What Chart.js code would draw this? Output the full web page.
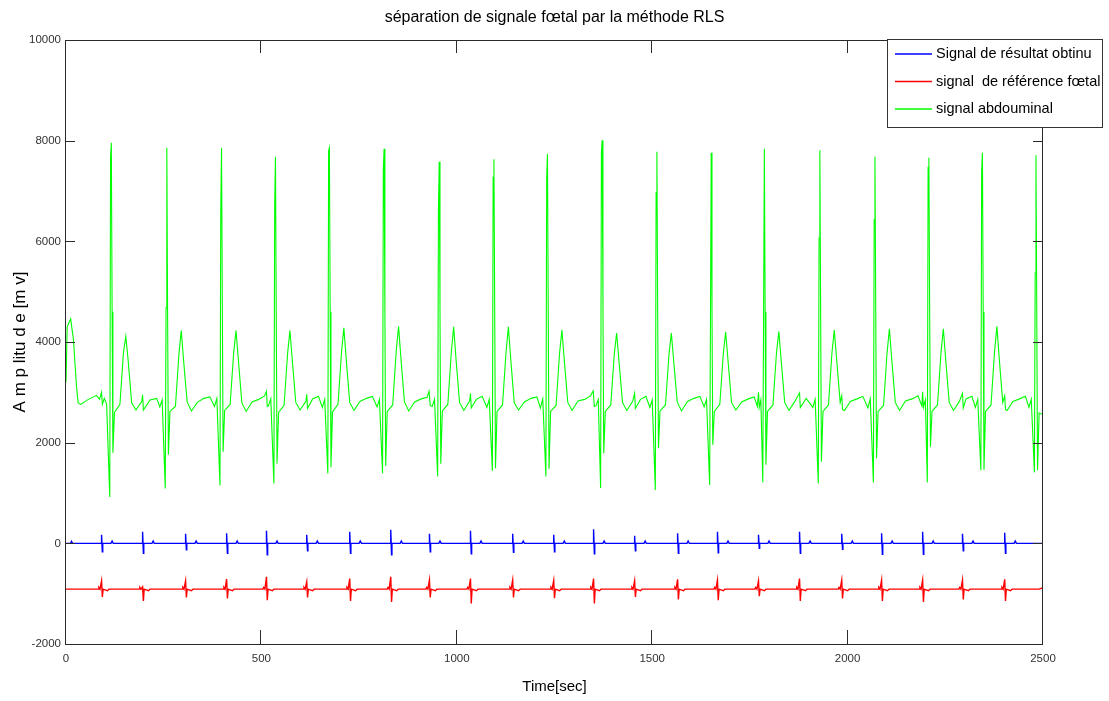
<!DOCTYPE html>
<html>
<head>
<meta charset="utf-8">
<title>séparation de signale fœtal par la méthode RLS</title>
<script src="https://cdn.jsdelivr.net/npm/chart.js@4.4.1/dist/chart.umd.min.js"></script>
<style>
  html, body { margin: 0; padding: 0; background: #fff; }
  #wrap { width: 1109px; height: 701px; position: relative; }
</style>
</head>
<body>
<div id="wrap"><canvas id="chart"></canvas></div>
<script>
// axis ticks
const xTicks = [0, 500, 1000, 1500, 2000, 2500];
const yTicks = [-2000, 0, 2000, 4000, 6000, 8000, 10000];

// legend labels
const labels = ['Signal de résultat obtinu', 'signal  de référence fœtal', 'signal abdouminal'];

// abdominal signal (green)
const greenTime = [
  0, 3, 12, 19, 27, 31, 38, 55, 78, 86, 91, 93, 98,
  104, 112, 114, 116, 118, 120, 124, 138, 147, 153, 159, 168, 179, 194, 196, 198, 215, 232,
  240, 246, 254, 256, 258, 260, 262, 266, 280, 289, 295, 301, 310, 321, 336, 353, 368,
  380, 386, 394, 396, 398, 400, 402, 406, 420, 429, 435, 441, 450, 461, 476, 493, 508,
  513, 515, 518, 524, 532, 534, 536, 538, 540, 544, 558, 567, 573, 579, 588, 599, 614, 616, 618, 631, 646,
  656, 662, 670, 672, 674, 676, 678, 682, 696, 705, 711, 717, 726, 737, 752, 769, 784,
  796, 802, 810, 812, 814, 816, 818, 822, 836, 845, 851, 857, 866, 877, 892, 909, 924,
  929, 932, 937, 943, 951, 953, 955, 957, 959, 963, 977, 986, 992, 998, 1007, 1018, 1033, 1035, 1037, 1050, 1065,
  1077, 1083, 1091, 1093, 1095, 1097, 1099, 1103, 1117, 1126, 1132, 1138, 1147, 1158, 1173, 1190, 1205,
  1214, 1220, 1228, 1230, 1232, 1234, 1236, 1240, 1254, 1263, 1269, 1275, 1284, 1295, 1310, 1327, 1342,
  1349, 1352, 1356, 1362, 1368, 1370, 1372, 1374, 1376, 1380, 1394, 1403, 1409, 1415, 1424, 1435, 1450, 1455, 1457, 1470, 1484,
  1494, 1500, 1508, 1510, 1512, 1514, 1516, 1520, 1534, 1543, 1549, 1555, 1564, 1575, 1590, 1607, 1622,
  1633, 1639, 1647, 1649, 1651, 1653, 1655, 1659, 1673, 1682, 1688, 1694, 1703, 1714, 1729, 1746, 1761,
  1769, 1772, 1774, 1778, 1783, 1785, 1787, 1789, 1791, 1795, 1809, 1818, 1824, 1830, 1839, 1850, 1865, 1877, 1879, 1894,
  1911, 1917, 1925, 1927, 1929, 1931, 1933, 1937, 1951, 1960, 1966, 1972, 1981, 1985, 1987, 1992, 2007, 2024, 2039,
  2052, 2058, 2066, 2068, 2070, 2072, 2074, 2078, 2092, 2101, 2107, 2113, 2122, 2133, 2148, 2165, 2180,
  2190, 2192, 2194, 2199, 2204, 2206, 2208, 2210, 2212, 2216, 2230, 2239, 2245, 2251, 2260, 2271, 2286, 2294, 2296, 2303, 2318,
  2327, 2333, 2341, 2343, 2345, 2347, 2349, 2353, 2367, 2376, 2382, 2388, 2397, 2402, 2404, 2408, 2423, 2440, 2455,
  2464, 2470, 2478, 2480, 2482, 2484, 2486, 2490, 2500
];
const greenAmp = [
  3200, 4300, 4460, 4050, 3100, 2790, 2760, 2850, 2940, 2860, 3000, 2760, 2880,
  2760, 920, 7670, 7960, 4600, 1800, 2600, 2760, 3790, 4110, 3640, 2790, 2650, 2820, 2950, 2650, 2850, 2880,
  2710, 2850, 1090, 4680, 7860, 4500, 1760, 2620, 2720, 3760, 4230, 3620, 2810, 2630, 2800, 2880, 2910,
  2720, 2880, 1150, 6600, 7860, 4700, 1820, 2640, 2760, 3780, 4230, 3650, 2790, 2620, 2810, 2860, 2930,
  3020, 2720, 2730, 2870, 1190, 6730, 7680, 4500, 1580, 2600, 2740, 3770, 4230, 3640, 2800, 2650, 2820, 2960, 2680, 2870, 2920,
  2700, 2860, 1390, 7800, 7860, 4600, 1510, 2610, 2760, 3800, 4280, 3660, 2800, 2640, 2820, 2880, 2920,
  2710, 2860, 1390, 7430, 7840, 4600, 1540, 2620, 2750, 3820, 4310, 3680, 2810, 2630, 2810, 2870, 2900,
  3020, 2740, 2720, 2860, 1330, 6600, 7580, 4600, 1580, 2630, 2760, 3800, 4300, 3660, 2800, 2640, 2830, 2980, 2690, 2860, 2920,
  2700, 2860, 1440, 7270, 7630, 4600, 1490, 2620, 2750, 3800, 4300, 3660, 2790, 2650, 2810, 2880, 2910,
  2690, 2870, 1330, 7270, 7740, 4600, 1480, 2620, 2740, 3780, 4240, 3640, 2800, 2640, 2830, 2860, 2930,
  3030, 2720, 2730, 2860, 1100, 7760, 8010, 4700, 1790, 2620, 2750, 3760, 4180, 3620, 2800, 2640, 2820, 2980, 2680, 2860, 2920,
  2700, 2850, 1060, 6970, 7780, 4600, 1890, 2630, 2750, 3760, 4180, 3620, 2810, 2630, 2820, 2880, 2920,
  2710, 2860, 1160, 4310, 7760, 4600, 1960, 2620, 2760, 3770, 4200, 3630, 2800, 2650, 2810, 2870, 2910,
  2720, 3000, 2700, 2850, 1210, 4540, 7840, 4600, 1560, 2620, 2750, 3780, 4210, 3640, 2800, 2640, 2820, 2990, 2700, 2880,
  2700, 2860, 1190, 6070, 7810, 4600, 1620, 2620, 2750, 3790, 4240, 3650, 2800, 2930, 2660, 2640, 2820, 2870, 2920,
  2690, 2870, 1210, 6430, 7680, 4600, 1690, 2620, 2740, 3790, 4260, 3650, 2800, 2640, 2830, 2870, 2930,
  2730, 3010, 2700, 2850, 1210, 7470, 7660, 4600, 1920, 2620, 2750, 3790, 4260, 3650, 2800, 2640, 2820, 2980, 2690, 2870, 2920,
  2700, 2860, 1450, 7400, 7760, 4600, 1460, 2620, 2750, 3810, 4310, 3680, 2800, 2930, 2660, 2640, 2820, 2870, 2920,
  2700, 2860, 1410, 5370, 7710, 4600, 1450, 2590, 2560
];

// result signal (blue), around 0
const blueTime = [
  0, 12, 14, 17,
  90, 91, 93, 94, 115, 118, 121,
  195, 196, 198, 199, 220, 223, 226,
  305, 306, 308, 309, 330, 333, 336,
  410, 411, 413, 414, 435, 438, 441,
  512, 513, 515, 516, 537, 540, 543,
  615, 616, 618, 619, 640, 643, 646,
  725, 726, 728, 729, 750, 753, 756,
  830, 831, 833, 834, 855, 858, 861,
  929, 930, 932, 933, 954, 957, 960,
  1034, 1035, 1037, 1038, 1059, 1062, 1065,
  1142, 1143, 1145, 1146, 1167, 1170, 1173,
  1247, 1248, 1250, 1251, 1272, 1275, 1278,
  1349, 1350, 1352, 1353, 1374, 1377, 1380,
  1454, 1455, 1457, 1458, 1479, 1482, 1485,
  1564, 1565, 1567, 1568, 1589, 1592, 1595,
  1666, 1667, 1669, 1670, 1691, 1694, 1697,
  1771, 1772, 1774, 1775, 1796, 1799, 1802,
  1876, 1877, 1879, 1880, 1901, 1904, 1907,
  1984, 1985, 1987, 1988, 2009, 2012, 2015,
  2086, 2087, 2089, 2090, 2111, 2114, 2117,
  2191, 2192, 2194, 2195, 2216, 2219, 2222,
  2293, 2294, 2296, 2297, 2318, 2321, 2324,
  2401, 2402, 2404, 2405, 2426, 2429, 2432,
  2500
];
const blueAmp = [
  0, 0, 40, 0,
  0, 170, -170, 0, 0, 45, 0,
  0, 230, -200, 0, 0, 45, 0,
  0, 190, -130, 0, 0, 45, 0,
  0, 200, -200, 0, 0, 45, 0,
  0, 250, -230, 0, 0, 45, 0,
  0, 170, -150, 0, 0, 45, 0,
  0, 230, -200, 0, 0, 45, 0,
  0, 270, -230, 0, 0, 45, 0,
  0, 190, -170, 0, 0, 45, 0,
  0, 250, -210, 0, 0, 45, 0,
  0, 190, -180, 0, 0, 45, 0,
  0, 170, -170, 0, 0, 45, 0,
  0, 280, -210, 0, 0, 45, 0,
  0, 150, -150, 0, 0, 45, 0,
  0, 200, -200, 0, 0, 45, 0,
  0, 230, -190, 0, 0, 45, 0,
  0, 170, -100, 0, 0, 45, 0,
  0, 230, -200, 0, 0, 45, 0,
  0, 190, -120, 0, 0, 45, 0,
  0, 200, -220, 0, 0, 45, 0,
  0, 230, -220, 0, 0, 45, 0,
  0, 190, -150, 0, 0, 45, 0,
  0, 210, -200, 0, 0, 45, 0,
  0
];

// foetal reference signal (red), around -910
const redTime = [
  0,
  82, 84, 87, 91, 93, 95, 106, 110,
  187, 189, 192, 196, 198, 200, 211, 215,
  297, 299, 302, 306, 308, 310, 321, 325,
  402, 404, 407, 411, 413, 415, 426, 430,
  504, 506, 509, 513, 515, 517, 528, 532,
  607, 609, 612, 616, 618, 620, 631, 635,
  717, 719, 722, 726, 728, 730, 741, 745,
  822, 824, 827, 831, 833, 835, 846, 850,
  921, 923, 926, 930, 932, 934, 945, 949,
  1026, 1028, 1031, 1035, 1037, 1039, 1050, 1054,
  1134, 1136, 1139, 1143, 1145, 1147, 1158, 1162,
  1239, 1241, 1244, 1248, 1250, 1252, 1263, 1267,
  1341, 1343, 1346, 1350, 1352, 1354, 1365, 1369,
  1446, 1448, 1451, 1455, 1457, 1459, 1470, 1474,
  1556, 1558, 1561, 1565, 1567, 1569, 1580, 1584,
  1658, 1660, 1663, 1667, 1669, 1671, 1682, 1686,
  1763, 1765, 1768, 1772, 1774, 1776, 1787, 1791,
  1868, 1870, 1873, 1877, 1879, 1881, 1892, 1896,
  1976, 1978, 1981, 1985, 1987, 1989, 2000, 2004,
  2078, 2080, 2083, 2087, 2089, 2091, 2102, 2106,
  2183, 2185, 2188, 2192, 2194, 2196, 2207, 2211,
  2285, 2287, 2290, 2294, 2296, 2298, 2309, 2313,
  2393, 2395, 2398, 2402, 2404, 2406, 2417, 2421,
  2490, 2500
];
const redAmp = [
  -910,
  -910, -875, -910, -745, -1065, -910, -940, -910,
  -910, -875, -910, -865, -1145, -910, -940, -910,
  -910, -875, -910, -745, -1075, -910, -940, -910,
  -910, -875, -910, -710, -1095, -910, -940, -910,
  -910, -875, -910, -665, -1130, -910, -940, -910,
  -910, -875, -910, -765, -1075, -910, -940, -910,
  -910, -875, -910, -700, -1145, -910, -940, -910,
  -910, -875, -910, -665, -1165, -910, -940, -910,
  -910, -875, -910, -730, -1075, -910, -940, -910,
  -910, -875, -910, -700, -1195, -910, -940, -910,
  -910, -875, -910, -730, -1075, -910, -940, -910,
  -910, -875, -910, -740, -1090, -910, -940, -910,
  -910, -875, -910, -700, -1195, -910, -940, -910,
  -910, -875, -910, -745, -1065, -910, -940, -910,
  -910, -875, -910, -715, -1115, -910, -940, -910,
  -910, -875, -910, -730, -1130, -910, -940, -910,
  -910, -875, -910, -745, -1050, -910, -940, -910,
  -910, -875, -910, -700, -1145, -910, -940, -910,
  -910, -875, -910, -730, -1095, -910, -940, -910,
  -910, -875, -910, -730, -1145, -910, -940, -910,
  -910, -875, -910, -730, -1165, -910, -940, -910,
  -910, -875, -910, -730, -1115, -910, -940, -910,
  -910, -875, -910, -715, -1145, -910, -940, -910,
  -910, -880
];

const FONT = "'Liberation Sans', Arial, sans-serif";

// Helper to pair times with amplitudes
function toPoints(times, amps) {
    return times.map((t, i) => ({ x: t, y: amps[i] }));
}

// MATLAB-like box, inward ticks and legend
const matlabFrame = {
    id: 'matlabFrame',
    afterDraw(chart) {
        const { ctx, chartArea: a, scales } = chart;
        const xs = scales.x, ys = scales.y;
        ctx.save();
        ctx.strokeStyle = '#2b2b2b';
        ctx.lineWidth = 1;
        ctx.beginPath();
        xTicks.forEach(v => {
            const p = Math.round(xs.getPixelForValue(v)) - 0.5;
            ctx.moveTo(p, a.bottom); ctx.lineTo(p, a.bottom - 14);
            ctx.moveTo(p, a.top); ctx.lineTo(p, a.top + 13);
        });
        yTicks.forEach(v => {
            const p = Math.round(ys.getPixelForValue(v)) + 0.5;
            ctx.moveTo(a.left, p); ctx.lineTo(a.left + 9, p);
            ctx.moveTo(a.right, p); ctx.lineTo(a.right - 10, p);
        });
        ctx.stroke();
        ctx.strokeRect(a.left - 0.5, a.top + 0.5, a.right - a.left, a.bottom - a.top);

        // legend box
        const lx = 887.5, ly = 39.5, lw = 215, lh = 88;
        ctx.fillStyle = '#fff';
        ctx.fillRect(lx, ly, lw, lh);
        ctx.strokeStyle = '#333';
        ctx.strokeRect(lx, ly, lw, lh);
        ctx.font = '14.5px ' + FONT;
        ctx.textBaseline = 'middle';
        ctx.textAlign = 'left';
        chart.data.datasets.forEach((ds, i) => {
            const yy = 54 + i * 27.5;
            ctx.strokeStyle = ds.borderColor;
            ctx.lineWidth = 1.5;
            ctx.beginPath();
            ctx.moveTo(895, yy);
            ctx.lineTo(932, yy);
            ctx.stroke();
            ctx.fillStyle = '#000';
            ctx.fillText(ds.label, 936, yy);
        });
        ctx.restore();
    }
};

function initChart() {
    const ctx = document.getElementById('chart');
    new Chart(ctx, {
        type: 'scatter',
        data: {
            datasets: [
                { label: labels[0], data: toPoints(blueTime, blueAmp), borderColor: '#0000ff', borderWidth: 1.4 },
                { label: labels[1], data: toPoints(redTime, redAmp), borderColor: '#ff0000', borderWidth: 1.4 },
                { label: labels[2], data: toPoints(greenTime, greenAmp), borderColor: '#00ff00', borderWidth: 1.1 }
            ].map(d => Object.assign(d, { showLine: true, pointRadius: 0, tension: 0, fill: false }))
        },
        options: {
            responsive: true,
            maintainAspectRatio: false,
            animation: false,
            layout: { padding: { left: 0, right: 66, top: 0, bottom: 0 } },
            plugins: {
                legend: { display: false },
                tooltip: { enabled: false },
                title: {
                    display: true,
                    fullSize: false,
                    text: 'séparation de signale fœtal par la méthode RLS',
                    color: '#000',
                    font: { family: FONT, size: 16, weight: 'normal' },
                    padding: { top: 8, bottom: 12.8 }
                }
            },
            scales: {
                x: {
                    type: 'linear',
                    min: 0, max: 2500,
                    afterBuildTicks: s => { s.ticks = xTicks.map(v => ({ value: v })); },
                    afterFit: s => { s.height = 57; },
                    grid: { display: false, drawTicks: false },
                    border: { display: false },
                    ticks: { color: '#333', padding: 8, maxRotation: 0, autoSkip: false,
                             font: { family: FONT, size: 11.5 }, callback: v => String(v) },
                    title: { display: true, text: 'Time[sec]', color: '#000',
                             font: { family: FONT, size: 15 }, padding: { top: 0, bottom: 5 } }
                },
                y: {
                    type: 'linear',
                    min: -2000, max: 10000,
                    afterBuildTicks: s => { s.ticks = yTicks.map(v => ({ value: v })); },
                    afterFit: s => { s.width = 66; },
                    grid: { display: false, drawTicks: false },
                    border: { display: false },
                    ticks: { color: '#333', padding: 5, autoSkip: false,
                             font: { family: FONT, size: 11.5 }, callback: v => String(v) },
                    title: { display: true, text: 'A m p litu d e [m v]', color: '#000',
                             font: { family: FONT, size: 17 }, padding: { top: 10, bottom: 0 } }
                }
            }
        },
        plugins: [matlabFrame]
    });
}

document.addEventListener('DOMContentLoaded', initChart);
</script>
</body>
</html>
